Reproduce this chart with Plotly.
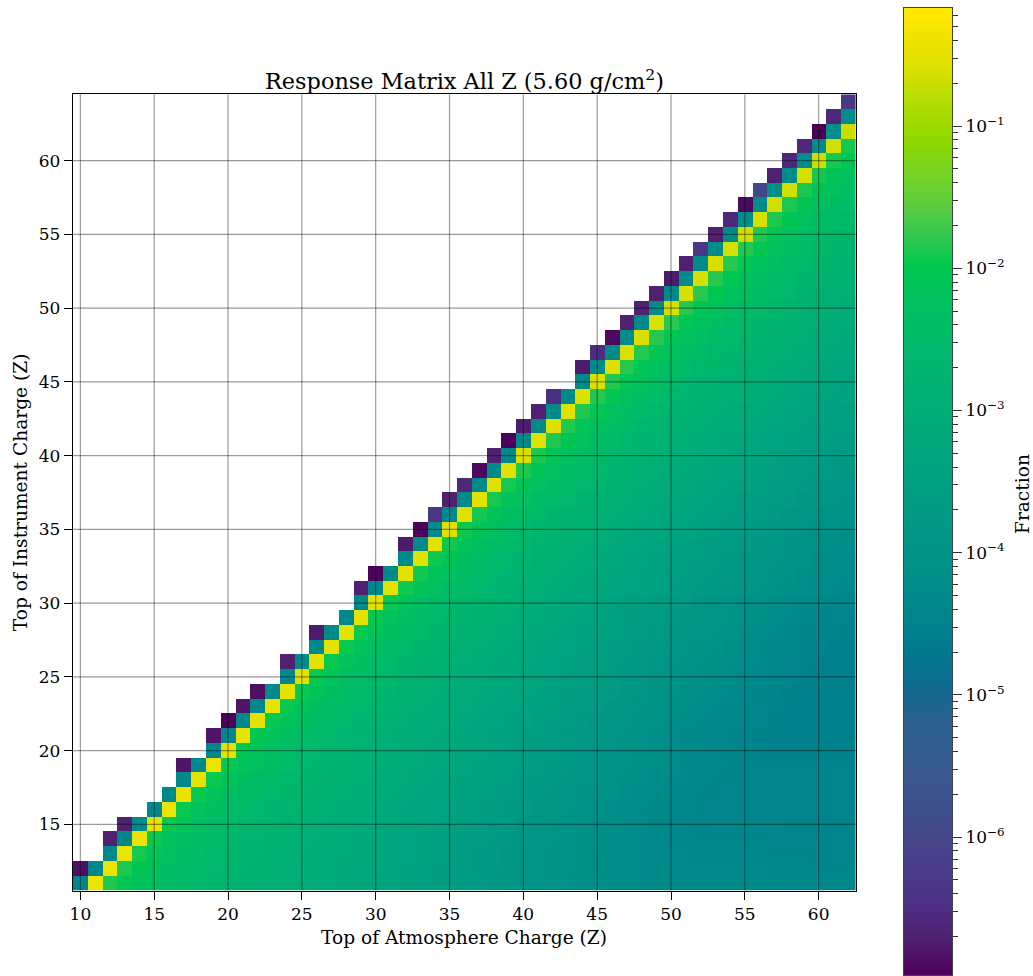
import numpy as np
import plotly.graph_objects as go

# ---------------- data (log10 of fraction) ----------------
toa_charge = list(range(10, 63))   # x : Top of Atmosphere charge
toi_charge = list(range(11, 65))   # y : Top of Instrument charge

# diagonal (y = x), x = 10..62
diag_log10 = [None,
              -0.42, -0.40, -0.42, -0.41, -0.45, -0.42, -0.43, -0.44, -0.42, -0.47,   # 11-20
              -0.45, -0.46, -0.44, -0.47, -0.50, -0.48, -0.47, -0.50, -0.49, -0.52,   # 21-30
              -0.50, -0.51, -0.53, -0.50, -0.55, -0.53, -0.52, -0.55, -0.54, -0.58,   # 31-40
              -0.55, -0.56, -0.55, -0.58, -0.60, -0.58, -0.60, -0.62, -0.60, -0.64,   # 41-50
              -0.62, -0.63, -0.61, -0.64, -0.66, -0.63, -0.65, -0.66, -0.64, -0.68,   # 51-60
              -0.66, -0.70]                                                           # 61-62

# one above the diagonal (y = x + 1), x = 10..62
above1_log10 = [-4.45,
                -4.40, -4.35, -4.40, -4.35, -4.40, -4.35, -4.40, -4.35, -4.40, -4.40,
                -4.35, -4.40, -4.30, -4.35, -4.30, -4.35, -4.30, -4.35, -4.35, -4.40,
                -4.30, -4.35, -4.35, -4.30, -4.35, -4.30, -4.35, -4.30, -4.35, -4.35,
                -4.30, -4.30, -4.30, -4.35, -4.30, -4.30, -4.25, -4.30, -4.25, -4.30,
                -4.25, -4.30, -4.25, -4.30, -4.25, -4.25, -4.20, -4.25, -4.20, -4.25,
                -4.20, -4.20]

# two above the diagonal (y = x + 2), x = 10..62 (None = empty)
above2_log10 = [-6.85,
                None, -6.70, -6.70, None, None, None, -6.80, None, -6.80, -6.95,
                -6.80, -6.85, None, -6.70, None, -6.75, None, None, -6.70, -6.95,
                None, -6.75, -6.95, -6.30, -6.70, -6.60, -6.90, -6.70, -6.95, -6.75,
                -6.70, -6.50, None, -6.75, -6.50, -6.90, -6.70, -6.70, -6.70, -6.75,
                -6.70, -6.35, -6.70, -6.60, -6.90, -6.00, -6.70, -6.60, -6.60, -7.00,
                -6.60, -6.30]

# fall-off below the diagonal by distance d = x - y (d = 1..51)
falloff_log10 = [-1.95, -2.15, -2.30, -2.42, -2.52, -2.62, -2.70, -2.78, -2.85, -2.92,
                 -2.98, -3.04, -3.10, -3.16, -3.22, -3.28, -3.34, -3.40, -3.46, -3.52,
                 -3.58, -3.64, -3.70, -3.76, -3.82, -3.88, -3.94, -3.99, -4.04, -4.09,
                 -4.13, -4.17, -4.20, -4.23, -4.25, -4.27, -4.27, -4.27, -4.27, -4.25,
                 -4.25, -4.25, -4.25, -4.25, -4.25, -4.25, -4.25, -4.25, -4.25, -4.25,
                 -4.25]

# column offsets (x = 10..62)
col_offset = [0.00, 0.00, 0.00, 0.00, 0.00, 0.00, 0.00, 0.00, 0.00, 0.00, 0.00,
              0.02, 0.03, 0.04, 0.05, 0.05, 0.05, 0.05, 0.05, 0.05, 0.05,
              0.05, 0.04, 0.04, 0.03, 0.03, 0.02, 0.02, 0.01, 0.00, 0.00,
              -0.02, -0.03, -0.04, -0.05, -0.06, -0.07, -0.08, -0.10, -0.11, -0.12,
              -0.13, -0.14, -0.15, -0.16, -0.17, -0.18, -0.19, -0.20, -0.21, -0.22, -0.22, -0.22]

# row offsets (y = 11..64)
row_offset = [0.10, 0.08, 0.05, 0.02,
              0.00, 0.00, 0.00, 0.00, 0.00,
              -0.05, -0.05, -0.05, -0.05, -0.05, -0.05, -0.05, -0.05, -0.05, -0.05, -0.05,
              0.00, 0.00, 0.00, 0.00, 0.00,
              0.02, 0.04, 0.06, 0.08, 0.10, 0.12, 0.14, 0.15, 0.17, 0.18, 0.20, 0.21, 0.23, 0.24, 0.25,
              0.28, 0.28, 0.28, 0.28, 0.28, 0.28, 0.28, 0.28, 0.28, 0.28, 0.28, 0.28, 0.28, 0.28]

x_ticks = [10, 15, 20, 25, 30, 35, 40, 45, 50, 55, 60]
y_ticks = [15, 20, 25, 30, 35, 40, 45, 50, 55, 60]
cb_ticks = [-6, -5, -4, -3, -2, -1]
cb_ticktext = ["10<sup>\u22126</sup>", "10<sup>\u22125</sup>", "10<sup>\u22124</sup>",
               "10<sup>\u22123</sup>", "10<sup>\u22122</sup>", "10<sup>\u22121</sup>"]
ZMIN, ZMAX = -6.97, -0.17

# ---------------- build matrix ----------------
z = np.full((len(toi_charge), len(toa_charge)), np.nan)
for i, yv in enumerate(toi_charge):
    for j, xv in enumerate(toa_charge):
        d = xv - yv
        v = None
        if d == 0:
            v = diag_log10[j]
        elif d == -1:
            v = above1_log10[j]
        elif d == -2:
            v = above2_log10[j]
        elif d > 0:
            v = falloff_log10[d - 1] + col_offset[j] + row_offset[i]
        if v is not None:
            z[i, j] = v

colorscale = [
    [0.000, "#4a0058"], [0.038, "#502070"], [0.072, "#4c3084"], [0.124, "#48408a"],
    [0.159, "#404c8c"], [0.210, "#385890"], [0.262, "#2a6090"], [0.297, "#106890"],
    [0.331, "#00788e"], [0.365, "#00848c"], [0.417, "#009088"], [0.486, "#009c84"],
    [0.555, "#00a87c"], [0.624, "#00b470"], [0.693, "#00c060"], [0.734, "#00c850"],
    [0.762, "#30c850"], [0.796, "#5ccc40"], [0.831, "#78d420"], [0.865, "#90d800"],
    [0.900, "#b0dc00"], [0.934, "#d8e000"], [0.993, "#ffe600"], [1.000, "#ffe800"],
]

FONT = "DejaVu Serif"

fig = go.Figure()
fig.add_trace(go.Heatmap(
    x=toa_charge, y=toi_charge, z=z, colorscale=colorscale,
    zmin=ZMIN, zmax=ZMAX, showscale=False, hoverongaps=False,
    xaxis="x", yaxis="y"))

# colour bar drawn as its own small axis pair (for major + minor ticks)
cb_vals = np.linspace(ZMIN, ZMAX, 500)
fig.add_trace(go.Heatmap(
    x=[0.5], y=cb_vals, z=[[v] for v in cb_vals], colorscale=colorscale,
    zmin=ZMIN, zmax=ZMAX, showscale=False, xaxis="x2", yaxis="y2", hoverinfo="skip"))

minor_vals = []
for n in range(-7, 0):
    for k in range(2, 10):
        v = n + np.log10(k)
        if ZMIN < v < ZMAX:
            minor_vals.append(v)

L, R, T, B = 73.3, 81, 8, 1
W, H = 1033, 976
pw, ph = W - L - R, H - T - B
def px2x(p): return (p - L) / pw
def py2y(p): return (H - B - p) / ph

axis_font = dict(family=FONT, size=17, color="black")
label_font = dict(family=FONT, size=18.6, color="black")
fig.update_layout(
    width=W, height=H, margin=dict(l=L, r=R, t=T, b=B, autoexpand=False),
    paper_bgcolor="white", plot_bgcolor="white", showlegend=False,
    font=dict(family=FONT, size=17, color="black"),
    xaxis=dict(domain=[0, px2x(855.6)], range=[9.5, 62.5], tickmode="array", tickvals=x_ticks,
               ticks="outside", ticklen=8, tickwidth=1.3, tickcolor="black",
               showline=True, mirror=True, linecolor="black", linewidth=1.3,
               showgrid=False, zeroline=False, tickfont=axis_font, anchor="y", automargin=False),
    yaxis=dict(domain=[py2y(890.7), py2y(94.3)], range=[10.5, 64.5], tickmode="array", tickvals=y_ticks,
               ticks="outside", ticklen=8, tickwidth=1.3, tickcolor="black",
               showline=True, mirror=True, linecolor="black", linewidth=1.3,
               showgrid=False, zeroline=False, tickfont=axis_font, anchor="x", automargin=False),
    xaxis2=dict(domain=[px2x(904), 1], range=[0, 1], showticklabels=False, ticks="",
                showline=True, mirror=True, linecolor="#444", linewidth=1.2,
                showgrid=False, zeroline=False, anchor="y2", automargin=False),
    yaxis2=dict(domain=[0, 1], range=[ZMIN, ZMAX], side="right", anchor="x2",
                tickmode="array", tickvals=cb_ticks, ticktext=cb_ticktext,
                ticks="outside", ticklen=9, tickwidth=1.2, tickcolor="#333",
                minor=dict(tickmode="array", tickvals=minor_vals, ticks="outside",
                           ticklen=5, tickwidth=1.0, tickcolor="#333"),
                showline=True, mirror=True, linecolor="#444", linewidth=1.2,
                showgrid=False, zeroline=False, tickfont=axis_font, automargin=False),
)

# grid lines on top of the image
shapes = []
for xv in x_ticks:
    shapes.append(dict(type="line", xref="x", yref="y", x0=xv, x1=xv, y0=10.5, y1=64.5,
                       line=dict(color="rgba(0,0,0,0.4)", width=1.2), layer="above"))
for yv in y_ticks:
    shapes.append(dict(type="line", xref="x", yref="y", x0=9.5, x1=62.5, y0=yv, y1=yv,
                       line=dict(color="rgba(0,0,0,0.4)", width=1.2), layer="above"))
fig.update_layout(shapes=shapes)

fig.add_annotation(text="Response Matrix All Z (5.60 g/cm<sup>2</sup>)", xref="paper", yref="paper",
                   x=px2x(464.5), y=py2y(80), showarrow=False, xanchor="center", yanchor="middle",
                   font=dict(family=FONT, size=22.4, color="black"))
fig.add_annotation(text="Top of Atmosphere Charge (Z)", xref="paper", yref="paper",
                   x=px2x(464.5), y=py2y(937), showarrow=False, xanchor="center", yanchor="middle",
                   font=label_font)
fig.add_annotation(text="Top of Instrument Charge (Z)", xref="paper", yref="paper",
                   x=px2x(21), y=py2y(492.5), showarrow=False, xanchor="center", yanchor="middle",
                   textangle=-90, font=label_font)
fig.add_annotation(text="Fraction", xref="paper", yref="paper",
                   x=px2x(1022), y=py2y(494), showarrow=False, xanchor="center", yanchor="middle",
                   textangle=-90, font=label_font)

fig.write_html("out.html")
